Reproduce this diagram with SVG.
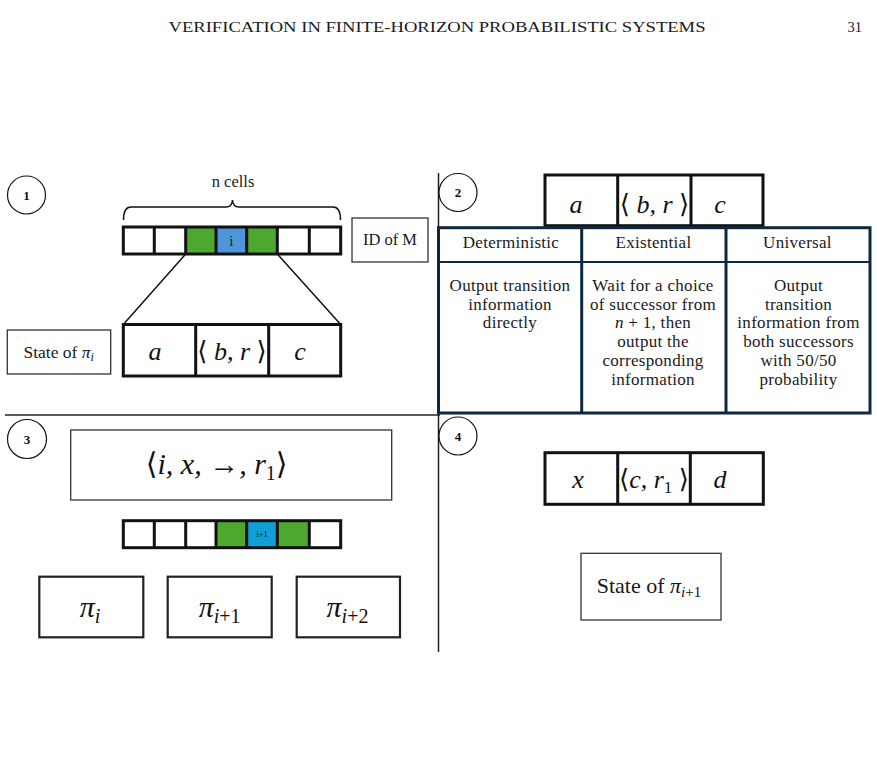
<svg xmlns="http://www.w3.org/2000/svg" width="877" height="780" viewBox="0 0 877 780">
<style>
.t{font-family:"Liberation Serif","DejaVu Serif",serif;fill:#1a1a1a}
.m{font-family:"Liberation Serif","DejaVu Serif",serif;font-style:italic;fill:#111}
.num{font-family:"Liberation Serif",serif;font-weight:bold;font-size:13px;fill:#111}
.circ{fill:#fff;stroke:#111;stroke-width:1.2}
.cell{fill:#fff;stroke:#111;stroke-width:3}
.thin{fill:#fff;stroke:#333;stroke-width:1.3}
.tb{fill:#fff;stroke:#0e2841;stroke-width:3}
.div{stroke:#222;stroke-width:1.5;fill:none}
.g{fill:#4ea72e}
.b1{fill:#4e95d9}
.b3{fill:#0f9ed5}
</style>
<rect width="877" height="780" fill="#fff"/>
<text class="t" x="437" y="32" font-size="14.5" text-anchor="middle" textLength="537" lengthAdjust="spacingAndGlyphs">VERIFICATION IN FINITE-HORIZON PROBABILISTIC SYSTEMS</text>
<text class="t" x="862" y="32" font-size="14.5" text-anchor="end">31</text>

<g id="dividers">
<line class="div" x1="5" y1="415" x2="440" y2="415"/>
<line class="div" x1="438.5" y1="173" x2="438.5" y2="652"/>
</g>

<!-- Section 1 -->
<g id="badge1"><circle class="circ" cx="26.5" cy="195" r="19"/><text class="num" x="26.5" y="199.5" text-anchor="middle">1</text></g>
<g id="ncells">
<text class="t" x="233" y="187" font-size="16.5" text-anchor="middle">n cells</text>
<path d="M123.5,220 Q123.5,207 131,207 L226,207 Q232,207 232.5,200 Q233,207 239,207 L333,207 Q340.5,207 340.5,220" fill="none" stroke="#111" stroke-width="1.5"/>
</g>
<g id="tape1">
<rect class="g" x="185.7" y="227" width="30.3" height="27"/>
<rect class="b1" x="216" y="227" width="30.7" height="27"/>
<rect class="g" x="246.7" y="227" width="30.6" height="27"/>
<rect fill="none" stroke="#111" stroke-width="3" x="123.3" y="227" width="217.4" height="27"/>
<path d="M154.3,227V254M185.7,227V254M216,227V254M246.7,227V254M277.3,227V254M309.3,227V254" stroke="#111" stroke-width="3"/>
<text class="t" x="231.3" y="246" font-size="15" text-anchor="middle">i</text>
</g>
<g id="idm"><rect class="thin" x="352" y="218" width="76" height="44"/><text class="t" x="390" y="245" font-size="16.5" text-anchor="middle">ID of M</text></g>
<g id="connectors">
<line x1="185.7" y1="254" x2="123.3" y2="324.5" stroke="#111" stroke-width="1.5"/>
<line x1="277.3" y1="254" x2="340.7" y2="324.5" stroke="#111" stroke-width="1.5"/>
</g>
<g id="state1">
<rect class="cell" x="123.3" y="324.5" width="217.4" height="51.5"/>
<path d="M195.7,324.5V376M268.7,324.5V376" stroke="#111" stroke-width="3"/>
<text class="m" x="155" y="360" font-size="26" text-anchor="middle">a</text>
<text class="m" x="232" y="360" font-size="26" text-anchor="middle"><tspan font-style="normal">⟨</tspan> b, r <tspan font-style="normal">⟩</tspan></text>
<text class="m" x="300" y="360" font-size="26" text-anchor="middle">c</text>
</g>
<g id="statepi">
<rect class="thin" x="7.3" y="330" width="103.4" height="44"/>
<text class="t" x="58.7" y="358" font-size="17.5" text-anchor="middle">State of <tspan class="m">π</tspan><tspan class="m" font-size="12" dy="3">i</tspan></text>
</g>

<!-- Section 2 -->
<g id="badge2"><circle class="circ" cx="458" cy="192.5" r="19"/><text class="num" x="458" y="197" text-anchor="middle">2</text></g>
<g id="cells2">
<rect class="cell" x="545" y="175" width="218" height="50.7"/>
<path d="M617.7,175V225.7M691,175V225.7" stroke="#111" stroke-width="3"/>
<text class="m" x="576" y="213" font-size="26" text-anchor="middle">a</text>
<text class="m" x="654.5" y="213" font-size="26" text-anchor="middle"><tspan font-style="normal">⟨</tspan> b, r <tspan font-style="normal">⟩</tspan></text>
<text class="m" x="720" y="213" font-size="26" text-anchor="middle">c</text>
</g>
<g id="table">
<rect class="tb" x="438.5" y="227.7" width="431.5" height="185.3"/>
<line x1="438.5" y1="262" x2="870" y2="262" stroke="#0e2841" stroke-width="2"/>
<path d="M581.7,227.7V413M726,227.7V413" stroke="#0e2841" stroke-width="3"/>
<g class="t" font-size="17" text-anchor="middle" letter-spacing="0.3">
<text x="511" y="248">Deterministic</text>
<text x="653.5" y="248">Existential</text>
<text x="797.5" y="248">Universal</text>
<text x="510" y="290.7">Output transition</text>
<text x="510" y="309.5">information</text>
<text x="510" y="328.3">directly</text>
<text x="653" y="290.7">Wait for a choice</text>
<text x="653" y="309.5">of successor from</text>
<text x="653" y="328.3"><tspan class="m">n</tspan> + 1, then</text>
<text x="653" y="347.1">output the</text>
<text x="653" y="365.9">corresponding</text>
<text x="653" y="384.7">information</text>
<text x="798.5" y="290.7">Output</text>
<text x="798.5" y="309.5">transition</text>
<text x="798.5" y="328.3">information from</text>
<text x="798.5" y="347.1">both successors</text>
<text x="798.5" y="365.9">with 50/50</text>
<text x="798.5" y="384.7">probability</text>
</g>
</g>

<!-- Section 3 -->
<g id="badge3"><circle class="circ" cx="27" cy="439" r="19.5"/><text class="num" x="27" y="443.5" text-anchor="middle">3</text></g>
<g id="tuple">
<rect class="thin" x="70.7" y="430" width="321" height="70"/>
<text class="m" x="216.7" y="474" font-size="30" text-anchor="middle"><tspan font-style="normal">⟨</tspan>i, x, <tspan font-style="normal">→</tspan>, r<tspan font-size="20" font-style="normal" dy="6">1</tspan><tspan font-style="normal" dy="-6">⟩</tspan></text>
</g>
<g id="tape3">
<rect class="g" x="216" y="520.7" width="30.7" height="27"/>
<rect class="b3" x="246.7" y="520.7" width="30.6" height="27"/>
<rect class="g" x="277.3" y="520.7" width="32" height="27"/>
<rect fill="none" stroke="#111" stroke-width="3" x="123.3" y="520.7" width="217.4" height="27"/>
<path d="M154.3,520.7V547.7M185.7,520.7V547.7M216,520.7V547.7M246.7,520.7V547.7M277.3,520.7V547.7M309.3,520.7V547.7" stroke="#111" stroke-width="3"/>
<text class="t" x="262" y="537" font-size="8.5" text-anchor="middle">i+1</text>
</g>
<g id="pi_i">
<rect x="39.3" y="576.7" width="104" height="60.6" fill="#fff" stroke="#222" stroke-width="2.2"/>
<text class="m" x="90" y="616.7" font-size="30" text-anchor="middle">π<tspan font-size="20" dy="6">i</tspan></text>
</g>
<g id="pi_i1">
<rect x="167.7" y="576.7" width="104" height="60.6" fill="#fff" stroke="#222" stroke-width="2.2"/>
<text class="m" x="219.7" y="616.7" font-size="30" text-anchor="middle">π<tspan font-size="20" dy="6">i<tspan font-style="normal">+1</tspan></tspan></text>
</g>
<g id="pi_i2">
<rect x="296.7" y="576.7" width="103.3" height="60.6" fill="#fff" stroke="#222" stroke-width="2.2"/>
<text class="m" x="347.5" y="616.7" font-size="30" text-anchor="middle">π<tspan font-size="20" dy="6">i<tspan font-style="normal">+2</tspan></tspan></text>
</g>

<!-- Section 4 -->
<g id="badge4"><circle class="circ" cx="458" cy="436" r="19"/><text class="num" x="458" y="440.5" text-anchor="middle">4</text></g>
<g id="cells4">
<rect class="cell" x="545" y="452.7" width="218.3" height="51.6"/>
<path d="M617.7,452.7V504.3M690.3,452.7V504.3" stroke="#111" stroke-width="3"/>
<text class="m" x="578" y="488" font-size="26" text-anchor="middle">x</text>
<text class="m" x="654" y="488" font-size="26" text-anchor="middle"><tspan font-style="normal">⟨</tspan>c, r<tspan font-size="17" font-style="normal" dy="5">1</tspan><tspan font-style="normal" dy="-5"> ⟩</tspan></text>
<text class="m" x="720" y="488" font-size="26" text-anchor="middle">d</text>
</g>
<g id="statepi1">
<rect class="thin" x="581" y="553.3" width="140" height="66.7"/>
<text class="t" x="649" y="593" font-size="22" text-anchor="middle">State of <tspan class="m">π</tspan><tspan class="m" font-size="15" dy="4">i<tspan font-style="normal">+1</tspan></tspan></text>
</g>
</svg>
